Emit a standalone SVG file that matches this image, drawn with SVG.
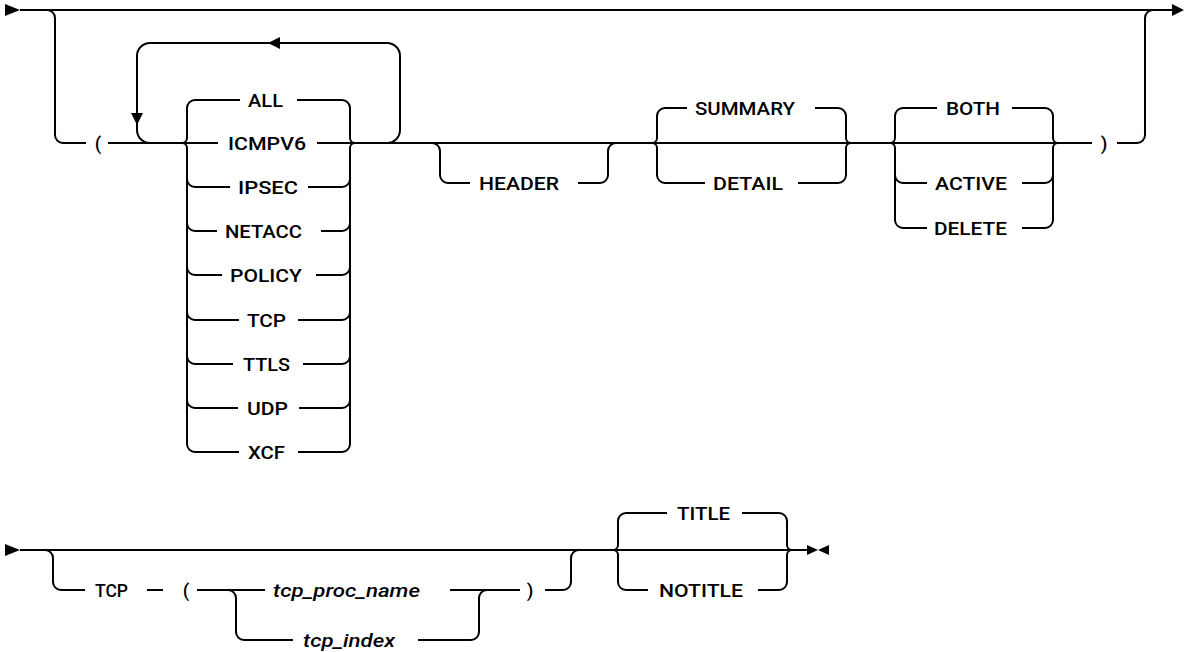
<svg xmlns="http://www.w3.org/2000/svg" width="1185" height="652" viewBox="0 0 1185 652">
<style>
.ln{fill:none;stroke:#000;stroke-width:2}
.ah{fill:#000;stroke:none}
.t{font-family:Roboto,"Liberation Sans",sans-serif;font-size:19px;font-weight:500;fill:#000}
.i{font-style:italic}
.c{text-anchor:middle}
</style>
<rect width="1185" height="652" fill="#fff"/>
<g id="connectors">
<!-- row 1 -->
<path class="ln" d="M20,10 H1172"/>
<polygon class="ah" points="5,4 20,10 5,16"/>
<polygon class="ah" points="1172,4 1184,10 1172,16"/>
<path class="ln" d="M47,10 A8,8 0 0 1 55,18 V135 A8,8 0 0 0 63,143 H86"/>
<path class="ln" d="M108,143 H218"/>
<path class="ln" d="M317,143 H1092"/>
<path class="ln" d="M150,143 A13,13 0 0 1 137,130 V56 A13,13 0 0 1 150,43 H387 A13,13 0 0 1 400,56 V130 A13,13 0 0 1 387,143"/>
<polygon class="ah" points="131,113 143,113 137,125"/>
<polygon class="ah" points="280,37 280,49 268,43"/>
<!-- group 1 left -->
<path class="ln" d="M240,100 H195 A8,8 0 0 0 187,108 V138 A5,5 0 0 1 182,143 M182,143 A5,5 0 0 1 187,148 V444 A8,8 0 0 0 195,452 H239"/>
<path class="ln" d="M187,179 A8,8 0 0 0 195,187 H230"/>
<path class="ln" d="M187,223 A8,8 0 0 0 195,231 H217"/>
<path class="ln" d="M187,267 A8,8 0 0 0 195,275 H222"/>
<path class="ln" d="M187,312 A8,8 0 0 0 195,320 H239"/>
<path class="ln" d="M187,356 A8,8 0 0 0 195,364 H233"/>
<path class="ln" d="M187,400 A8,8 0 0 0 195,408 H238"/>
<!-- group 1 right -->
<path class="ln" d="M297,100 H342 A8,8 0 0 1 350,108 V138 A5,5 0 0 0 355,143 M355,143 A5,5 0 0 0 350,148 V444 A8,8 0 0 1 342,452 H298"/>
<path class="ln" d="M308,187 H342 A8,8 0 0 0 350,179"/>
<path class="ln" d="M321,231 H342 A8,8 0 0 0 350,223"/>
<path class="ln" d="M316,275 H342 A8,8 0 0 0 350,267"/>
<path class="ln" d="M298,320 H342 A8,8 0 0 0 350,312"/>
<path class="ln" d="M303,364 H342 A8,8 0 0 0 350,356"/>
<path class="ln" d="M299,408 H342 A8,8 0 0 0 350,400"/>
<!-- HEADER -->
<path class="ln" d="M432,143 A8,8 0 0 1 440,151 V175 A8,8 0 0 0 448,183 H470"/>
<path class="ln" d="M578,183 H600 A8,8 0 0 0 608,175 V151 A8,8 0 0 1 616,143"/>
<!-- SUMMARY/DETAIL -->
<path class="ln" d="M687,108 H665 A8,8 0 0 0 657,116 V138 A5,5 0 0 1 652,143 M652,143 A5,5 0 0 1 657,148 V175 A8,8 0 0 0 665,183 H705"/>
<path class="ln" d="M815,108 H838 A8,8 0 0 1 846,116 V138 A5,5 0 0 0 851,143 M851,143 A5,5 0 0 0 846,148 V175 A8,8 0 0 1 838,183 H798"/>
<!-- BOTH/ACTIVE/DELETE -->
<path class="ln" d="M937,108 H903 A8,8 0 0 0 895,116 V138 A5,5 0 0 1 890,143 M890,143 A5,5 0 0 1 895,148 V220 A8,8 0 0 0 903,228 H927"/>
<path class="ln" d="M895,175 A8,8 0 0 0 903,183 H927"/>
<path class="ln" d="M1012,108 H1045 A8,8 0 0 1 1053,116 V138 A5,5 0 0 0 1058,143 M1058,143 A5,5 0 0 0 1053,148 V220 A8,8 0 0 1 1045,228 H1022"/>
<path class="ln" d="M1022,183 H1045 A8,8 0 0 0 1053,175"/>
<!-- close -->
<path class="ln" d="M1117,143 H1137 A8,8 0 0 0 1145,135 V18 A8,8 0 0 1 1153,10"/>
<!-- row 2 -->
<polygon class="ah" points="5,544 20,550 5,556"/>
<path class="ln" d="M20,550 H807"/>
<path class="ln" d="M45,550 A8,8 0 0 1 53,558 V582 A8,8 0 0 0 61,590 H85"/>
<path class="ln" d="M147,590 H163"/>
<path class="ln" d="M197,590 H265"/>
<path class="ln" d="M450,590 H520"/>
<path class="ln" d="M228,590 A8,8 0 0 1 236,598 V632 A8,8 0 0 0 244,640 H293"/>
<path class="ln" d="M418,640 H471 A8,8 0 0 0 479,632 V598 A8,8 0 0 1 487,590"/>
<path class="ln" d="M545,590 H563 A8,8 0 0 0 571,582 V558 A8,8 0 0 1 579,550"/>
<path class="ln" d="M667,513 H626 A8,8 0 0 0 618,521 V545 A5,5 0 0 1 613,550 M613,550 A5,5 0 0 1 618,555 V582 A8,8 0 0 0 626,590 H648"/>
<path class="ln" d="M742,513 H779 A8,8 0 0 1 787,521 V545 A5,5 0 0 0 792,550 M792,550 A5,5 0 0 0 787,555 V582 A8,8 0 0 1 779,590 H758"/>
<polygon class="ah" points="807,545 818,550 807,555"/>
<polygon class="ah" points="829,545 818,550 829,555"/>
</g>
<g id="lparen1"><text class="t c" x="98" y="150">(</text></g>
<g id="opt-all"><text class="t" x="248" y="107" textLength="35" lengthAdjust="spacingAndGlyphs">ALL</text></g>
<g id="opt-icmpv6"><text class="t" x="228" y="150" textLength="78" lengthAdjust="spacingAndGlyphs">ICMPV6</text></g>
<g id="opt-ipsec"><text class="t" x="238" y="194" textLength="60" lengthAdjust="spacingAndGlyphs">IPSEC</text></g>
<g id="opt-netacc"><text class="t" x="225" y="238" textLength="77" lengthAdjust="spacingAndGlyphs">NETACC</text></g>
<g id="opt-policy"><text class="t" x="230" y="282" textLength="72" lengthAdjust="spacingAndGlyphs">POLICY</text></g>
<g id="opt-tcp"><text class="t" x="247" y="327" textLength="39" lengthAdjust="spacingAndGlyphs">TCP</text></g>
<g id="opt-ttls"><text class="t" x="243" y="371" textLength="47" lengthAdjust="spacingAndGlyphs">TTLS</text></g>
<g id="opt-udp"><text class="t" x="247" y="415" textLength="41" lengthAdjust="spacingAndGlyphs">UDP</text></g>
<g id="opt-xcf"><text class="t" x="248" y="459" textLength="37" lengthAdjust="spacingAndGlyphs">XCF</text></g>
<g id="opt-header"><text class="t" x="479" y="190" textLength="80" lengthAdjust="spacingAndGlyphs">HEADER</text></g>
<g id="opt-summary"><text class="t" x="695" y="115" textLength="100" lengthAdjust="spacingAndGlyphs">SUMMARY</text></g>
<g id="opt-detail"><text class="t" x="713" y="190" textLength="70" lengthAdjust="spacingAndGlyphs">DETAIL</text></g>
<g id="opt-both"><text class="t" x="946" y="115" textLength="54" lengthAdjust="spacingAndGlyphs">BOTH</text></g>
<g id="opt-active"><text class="t" x="935" y="190" textLength="72" lengthAdjust="spacingAndGlyphs">ACTIVE</text></g>
<g id="opt-delete"><text class="t" x="934" y="235" textLength="73" lengthAdjust="spacingAndGlyphs">DELETE</text></g>
<g id="rparen1"><text class="t c" x="1104" y="150">)</text></g>
<g id="kw-tcp"><text class="t" x="95" y="597" textLength="33" lengthAdjust="spacingAndGlyphs">TCP</text></g>
<g id="lparen2"><text class="t c" x="186" y="597">(</text></g>
<g id="var-tcp-proc-name"><text class="t i" x="273" y="597" textLength="147" lengthAdjust="spacingAndGlyphs">tcp_proc_name</text></g>
<g id="var-tcp-index"><text class="t i" x="303" y="647" textLength="92" lengthAdjust="spacingAndGlyphs">tcp_index</text></g>
<g id="rparen2"><text class="t c" x="530" y="597">)</text></g>
<g id="opt-title"><text class="t" x="677" y="520" textLength="53" lengthAdjust="spacingAndGlyphs">TITLE</text></g>
<g id="opt-notitle"><text class="t" x="659" y="597" textLength="84" lengthAdjust="spacingAndGlyphs">NOTITLE</text></g>
</svg>
